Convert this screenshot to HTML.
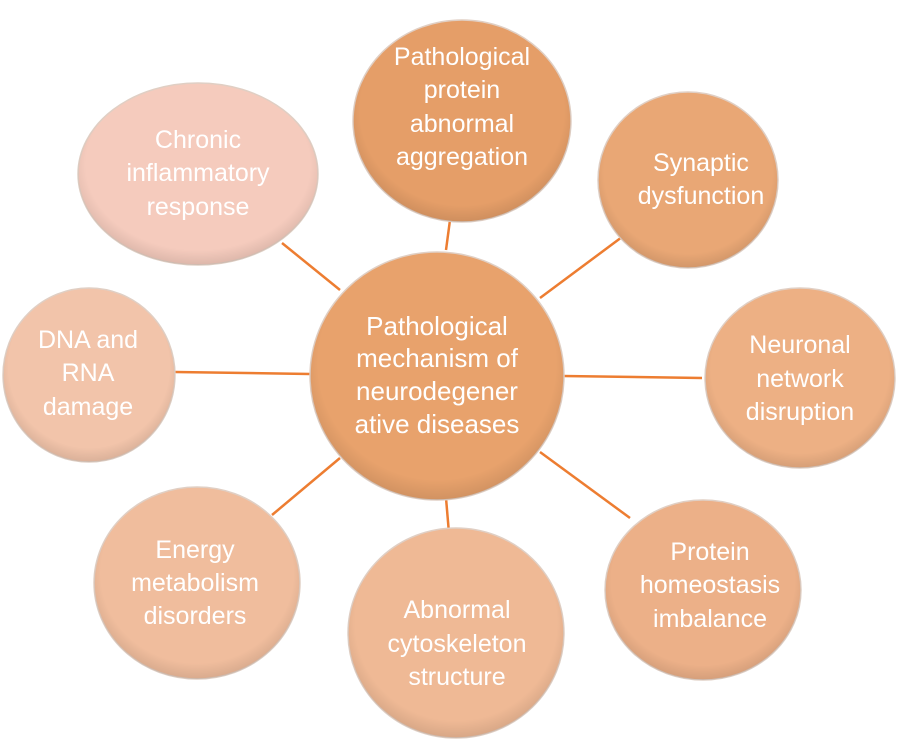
<!DOCTYPE html>
<html><head><meta charset="utf-8"><style>
body{margin:0;background:#fff;}
svg text{font-family:"Liberation Sans",sans-serif;font-size:25px;fill:#fff;text-anchor:middle;}
</style></head><body>
<svg width="898" height="742" viewBox="0 0 898 742" xmlns="http://www.w3.org/2000/svg">
<defs>
<radialGradient id="g" cx="50%" cy="45%" r="55%">
<stop offset="0.85" stop-color="#000" stop-opacity="0"/>
<stop offset="1" stop-color="#000" stop-opacity="0.1"/>
</radialGradient>
</defs>
<g stroke="#ed7d31" stroke-width="2.5">
<line x1="282" y1="243" x2="340" y2="290"/>
<line x1="450" y1="220" x2="446" y2="250"/>
<line x1="622" y1="237" x2="540" y2="298"/>
<line x1="563" y1="376" x2="702" y2="378"/>
<line x1="540" y1="452" x2="630" y2="518"/>
<line x1="446" y1="498" x2="450" y2="545"/>
<line x1="272" y1="515" x2="340" y2="458"/>
<line x1="175" y1="372" x2="310" y2="374"/>
</g>
<g stroke="#e0cfc4" stroke-width="1.5">
<ellipse cx="198" cy="174" rx="120" ry="91" fill="#f5cbbd"/>
<ellipse cx="462" cy="121" rx="109" ry="101" fill="#e59e68"/>
<ellipse cx="688" cy="180" rx="90" ry="88" fill="#e9a775"/>
<ellipse cx="800" cy="378" rx="95" ry="90" fill="#edb084"/>
<ellipse cx="703" cy="590" rx="98" ry="90" fill="#ecb088"/>
<ellipse cx="456" cy="633" rx="108" ry="105" fill="#efb995"/>
<ellipse cx="197" cy="583" rx="103" ry="96" fill="#f0bd9d"/>
<ellipse cx="89" cy="375" rx="86" ry="87" fill="#f2c4aa"/>
<ellipse cx="437" cy="376" rx="127" ry="124" fill="#e8a26c"/>
</g>
<g fill="url(#g)">
<ellipse cx="198" cy="174" rx="120" ry="91"/>
<ellipse cx="462" cy="121" rx="109" ry="101"/>
<ellipse cx="688" cy="180" rx="90" ry="88"/>
<ellipse cx="800" cy="378" rx="95" ry="90"/>
<ellipse cx="703" cy="590" rx="98" ry="90"/>
<ellipse cx="456" cy="633" rx="108" ry="105"/>
<ellipse cx="197" cy="583" rx="103" ry="96"/>
<ellipse cx="89" cy="375" rx="86" ry="87"/>
<ellipse cx="437" cy="376" rx="127" ry="124"/>
</g>
<text x="198" y="148">Chronic</text><text x="198" y="181">inflammatory</text><text x="198" y="215">response</text>
<text x="462" y="65">Pathological</text><text x="462" y="98">protein</text><text x="462" y="132">abnormal</text><text x="462" y="165">aggregation</text>
<text x="701" y="171">Synaptic</text><text x="701" y="204">dysfunction</text>
<text x="800" y="353">Neuronal</text><text x="800" y="387">network</text><text x="800" y="420">disruption</text>
<text x="710" y="560">Protein</text><text x="710" y="593">homeostasis</text><text x="710" y="627">imbalance</text>
<text x="457" y="618">Abnormal</text><text x="457" y="652">cytoskeleton</text><text x="457" y="685">structure</text>
<text x="195" y="558">Energy</text><text x="195" y="591">metabolism</text><text x="195" y="624">disorders</text>
<text x="88" y="348">DNA and</text><text x="88" y="381">RNA</text><text x="88" y="415">damage</text>
<text x="437" y="335" style="font-size:26px">Pathological</text><text x="437" y="367" style="font-size:26px">mechanism of</text><text x="437" y="400" style="font-size:26px">neurodegener</text><text x="437" y="433" style="font-size:26px">ative diseases</text>
</svg>
</body></html>
